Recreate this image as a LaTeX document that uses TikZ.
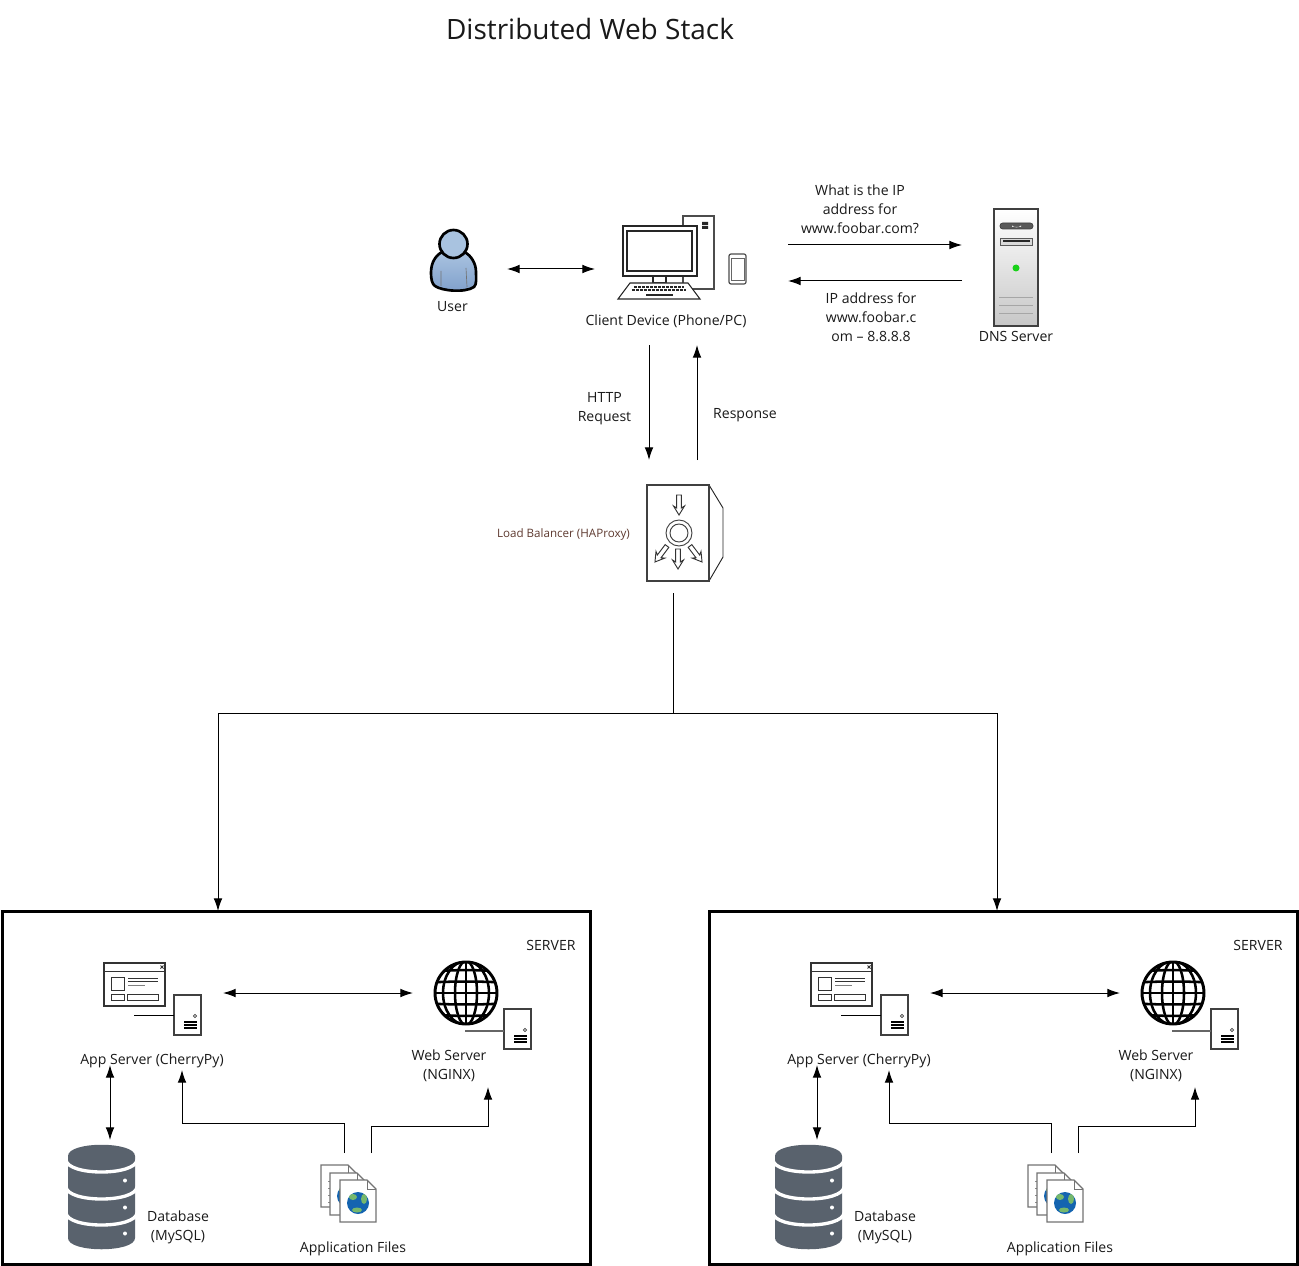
\documentclass[tikz,border=0pt]{standalone}
\usepackage{fontspec}
\setmainfont{Open Sans}
\usepackage{tikz}
\usetikzlibrary{arrows.meta}

\definecolor{slate}{HTML}{59626D}
\definecolor{labelbrown}{HTML}{5E3A30}
\definecolor{userlight}{HTML}{A9C3E0}
\definecolor{userdark}{HTML}{7F9FCB}
\definecolor{earthblue}{HTML}{1464B0}
\definecolor{earthgreen}{HTML}{76B86C}

\tikzset{
small_server/.pic={
  \draw[fill=white, draw=black!75, line width=1pt] (0,0) rectangle (27,40);
  \draw[black!75, line width=.6pt] (21,21) circle (1.6);
  \foreach \y in {27,30,33} \draw[black, line width=1.2pt] (10,\y) -- (23,\y);
},
globe_icon/.pic={
  \begin{scope}
  \clip (466,993) circle (32);
  \foreach \y in {-21,-10.5,0,10.5,21} \draw[black, line width=1.9pt] (430,993+\y) .. controls (450,993+1.12*\y) and (482,993+1.12*\y) .. (502,993+\y);
  \draw[black, line width=1.9pt] (466,960) -- (466,1026);
  \draw[black, line width=1.9pt] (466,993) ellipse (11 and 32);
  \draw[black, line width=1.9pt] (466,993) ellipse (23 and 32);
  \end{scope}
  \draw[black, line width=2.2pt] (466,993) circle (31);
},
doc_page/.pic={
  \draw[fill=white, draw=black!55, line width=1pt] (0,0) -- (27,0) -- (36,9) -- (36,42) -- (0,42) -- cycle;
  \draw[black!55, line width=.7pt] (27,0) -- (27,9) -- (36,9);
},
doc_globe/.pic={
  \fill[earthblue] (18,23) circle (11);
  \fill[earthgreen] (24,19) ellipse (3 and 5);
  \fill[earthgreen] (13,17) ellipse (4 and 3);
  \fill[earthgreen] (17,30) ellipse (5 and 2.5);
},
hollow_arrow/.pic={
  \draw[fill=white, draw=black!80, line width=.7pt] (-2.3,0) -- (2.3,0) -- (2.3,13) -- (5.5,11) -- (0,20) -- (-5.5,11) -- (-2.3,13) -- cycle;
},
server_stack/.pic={
  \node[box_style, minimum width=441pt, minimum height=264.75pt] (-box) at (296,1087.5) {};
  \node[label_style] (-tag) at (551,944) {SERVER};
  % app server
  \node[holder_style={133}{110}] (-app) at (156.5,1010) {};
  \draw[fill=white, draw=black!80, line width=.8pt] (104,963) rectangle (165,1006);
  \draw[black!80, line width=.7pt] (104,971) -- (165,971);
  \draw[black!80, line width=.6pt] (160.5,965.5) -- (163.5,968.5) (160.5,968.5) -- (163.5,965.5);
  \draw[black!80, line width=.7pt] (111,977) rectangle (124,990);
  \draw[black!80, line width=.7pt] (128,978) -- (158,978) (128,981) -- (158,981);
  \draw[black!50, line width=.7pt] (128,985) -- (145,985);
  \draw[black!80, line width=.7pt] (111,994) rectangle (124,1000);
  \draw[black!80, line width=.7pt] (127,994) rectangle (158,1000);
  \pic at (174,995) {small_server};
  \draw[black, line width=.75pt] (134,1015) -- (174,1015);
  \node[label_style] (-app_label) at (152,1060) {App Server (CherryPy)};
  % web server
  \node[holder_style={127}{132}] (-web) at (476.5,1021) {};
  \pic at (0,0) {globe_icon};
  \pic at (504,1009) {small_server};
  \draw[black!60, line width=.9pt] (465,1031) -- (504,1031);
  \node[label_style] (-web_label) at (449,1064.5) {Web Server\\(NGINX)};
  % database
  \node[holder_style={85}{112}] (-db) at (102.5,1196) {};
  \fill[slate] (68,1156) .. controls (68,1141) and (135,1141) .. (135,1156) -- (135,1238) .. controls (135,1253) and (68,1253) .. (68,1238) -- cycle;
  \foreach \y in {1160,1187,1213} {
    \draw[white, line width=2.5pt] (66,\y) .. controls (68,\y+16) and (135,\y+16) .. (137,\y);
    \fill[white] (125,\y+20.5) circle (2);
  }
  \node[label_style] (-db_label) at (178,1226.5) {Database\\(MySQL)};
  % application files
  \node[holder_style={57}{72}] (-files) at (349.5,1189) {};
  \pic at (321,1165) {doc_page};
  \foreach \y in {1181,1188,1195,1202} \draw[black!45, line width=.5pt] (328,\y) -- (330,\y);
  \pic at (330,1173) {doc_page};
  \pic at (330,1173) {doc_globe};
  \pic at (340,1180) {doc_page};
  \pic at (340,1180) {doc_globe};
  \node[label_style] (-files_label) at (353,1247) {Application Files};
  % connectors
  \draw[both_style] (-app.east |- 0,993) -- (-web.west |- 0,993);
  \draw[both_style] (110,0 |- -app.south) -- (110,0 |- -db.north);
  \draw[arrow_style, shorten >=3.75pt] (344,0 |- -files.north) |- (182,1123) -- (182,0 |- -app.south);
  \draw[arrow_style] (371,0 |- -files.north) |- (488,1126) -- (488,0 |- -web.south);
}
}

\begin{document}
\begin{tikzpicture}[x=0.75pt, y=-0.75pt,
label_style/.style={align=center, inner sep=0pt, yshift=-1pt, text=black!90, font=\fontsize{10.55}{14.25}\selectfont},
title_style/.style={inner sep=0pt, text=black!90, font=\fontsize{21}{25}\selectfont},
small_style/.style={inner sep=0pt, yshift=-.75pt, text=labelbrown, font=\fontsize{8.7}{10}\selectfont},
holder_style/.style 2 args={minimum width=#1*0.75pt, minimum height=#2*0.75pt, inner sep=0pt, outer sep=0pt},
box_style/.style={draw=black, line width=2.25pt, inner sep=0pt, outer sep=0pt},
edge_style/.style={draw=black, line width=.75pt},
arrow_style/.style={edge_style, -{Latex[length=9.5pt,width=6.5pt]}},
both_style/.style={edge_style, {Latex[length=9.5pt,width=6.5pt]}-{Latex[length=9.5pt,width=6.5pt]}}]
\useasboundingbox (0,0) rectangle (1299,1266);

\node[title_style] (title) at (590,29) {Distributed Web Stack};

% user
\node[holder_style={108}{60}] (user) at (453,269) {};
\draw[line width=2pt, top color=userlight, bottom color=userdark, draw=black] (442,252) .. controls (435,256) and (431,263) .. (431,273) .. controls (431,279) and (432,284) .. (435,286) .. controls (442,291) and (465,293) .. (474,287) .. controls (477,284) and (476,278) .. (476,272) .. controls (476,263) and (471,256) .. (465,252) -- cycle;
\draw[black!55, line width=.5pt] (441,271) -- (441,286) (466,268) -- (467,287);
\draw[line width=2pt, fill=userlight, draw=black] (453.5,244) circle (14);
\node[label_style] (user_label) at (452.5,305) {User};

% client device
\node[holder_style={193}{145}] (client) at (691.5,272.5) {};
\draw[fill=white, draw=black!70, line width=1.2pt] (683,216) rectangle (714,289);
\fill[black!85] (702,222) rectangle (708,225) (702,226) rectangle (708,229);
\draw[fill=white, draw=black!85, line width=.8pt] (653,276) rectangle (666,283);
\draw[fill=white, draw=black!85, line width=.8pt] (623,226) rectangle (697,276);
\draw[draw=black!85, line width=.8pt] (627,231) rectangle (692,271);
\draw[fill=white, draw=black!85, line width=.8pt] (630,283) -- (688,283) -- (700,299) -- (618,299) -- cycle;
\draw[black!85, line width=1.3pt, dash pattern=on 2.2pt off .8pt] (634,287) -- (684,287) (632,290) -- (686,290);
\draw[black!85, line width=1.3pt] (646,295) -- (673,295);
\draw[fill=white, draw=black!70, line width=.9pt, rounded corners=1.5pt] (729,254) rectangle (746,284);
\draw[black!60, line width=.5pt] (731,258) rectangle (744,280);
\node[label_style] (client_label) at (666,320) {Client Device (Phone/PC)};

% dns server
\node[holder_style={108}{120}] (dns) at (1016,267.5) {};
\draw[top color=white, bottom color=black!22, draw=black!75, line width=1pt] (994,209) rectangle (1038,326);
\draw[fill=black!65, draw=black!75, line width=.5pt, rounded corners=2pt] (1000,223) rectangle (1033,229);
\fill[black!10] (1012,225.5) .. controls (1015,228) and (1018,228) .. (1021,225.5) -- (1021,227) -- (1012,227) -- cycle;
\draw[fill=black!15, draw=black!65, line width=.7pt] (1000,238) rectangle (1032,245);
\fill[black!85] (1003,240.5) rectangle (1030,242.5);
\fill[green!80!black!90!white] (1016,268) circle (3.5);
\foreach \y in {297,305,313} \draw[black!35, line width=.7pt] (999,\y) -- (1033,\y);
\node[label_style] (dns_label) at (1016,335) {DNS Server};

\node[label_style] (question) at (860,208) {What is the IP\\address for\\www.foobar.com?};
\node[label_style] (answer) at (871,316) {IP address for\\www.foobar.c\\om -- 8.8.8.8};
\node[label_style] (request) at (604.5,407.5) {HTTP\\Request};
\node[label_style] (response) at (745,414) {Response};

% load balancer
\node[holder_style={102}{133}] (lb) at (673,526.5) {};
\draw[fill=white, draw=black!85, line width=.7pt] (709,485) -- (723,508) -- (723,557) -- (709,581);
\draw[fill=white, draw=black!75, line width=1pt] (647,485) rectangle (709,581);
\draw[black!75, line width=.7pt] (679,533) circle (13) circle (9);
\pic at (679,495) {hollow_arrow};
\pic at (678,549) {hollow_arrow};
\pic[rotate=-37] at (667,546) {hollow_arrow};
\pic[rotate=37] at (690,546) {hollow_arrow};
\node[small_style] (lb_label) at (563.5,533) {Load Balancer (HAProxy)};

% the two servers
\pic (left) at (0,0) {server_stack};
\pic (right) at (707,0) {server_stack};

% connectors
\coordinate (tap) at (673,713);
\draw[both_style] (user.east) -- (client.west |- user.east);
\draw[arrow_style] (client.east |- 0,245) -- (dns.west |- 0,245);
\draw[arrow_style] (dns.west |- 0,281) -- (client.east |- 0,281);
\draw[arrow_style] (649,0 |- client.south) -- (649,0 |- lb.north);
\draw[arrow_style] (697,0 |- lb.north) -- (697,0 |- client.south);
\draw[edge_style] (lb.south) -- (tap);
\draw[arrow_style] (tap) -| (218,0 |- left-box.north);
\draw[arrow_style] (tap) -| (997,0 |- right-box.north);
\end{tikzpicture}
\end{document}
